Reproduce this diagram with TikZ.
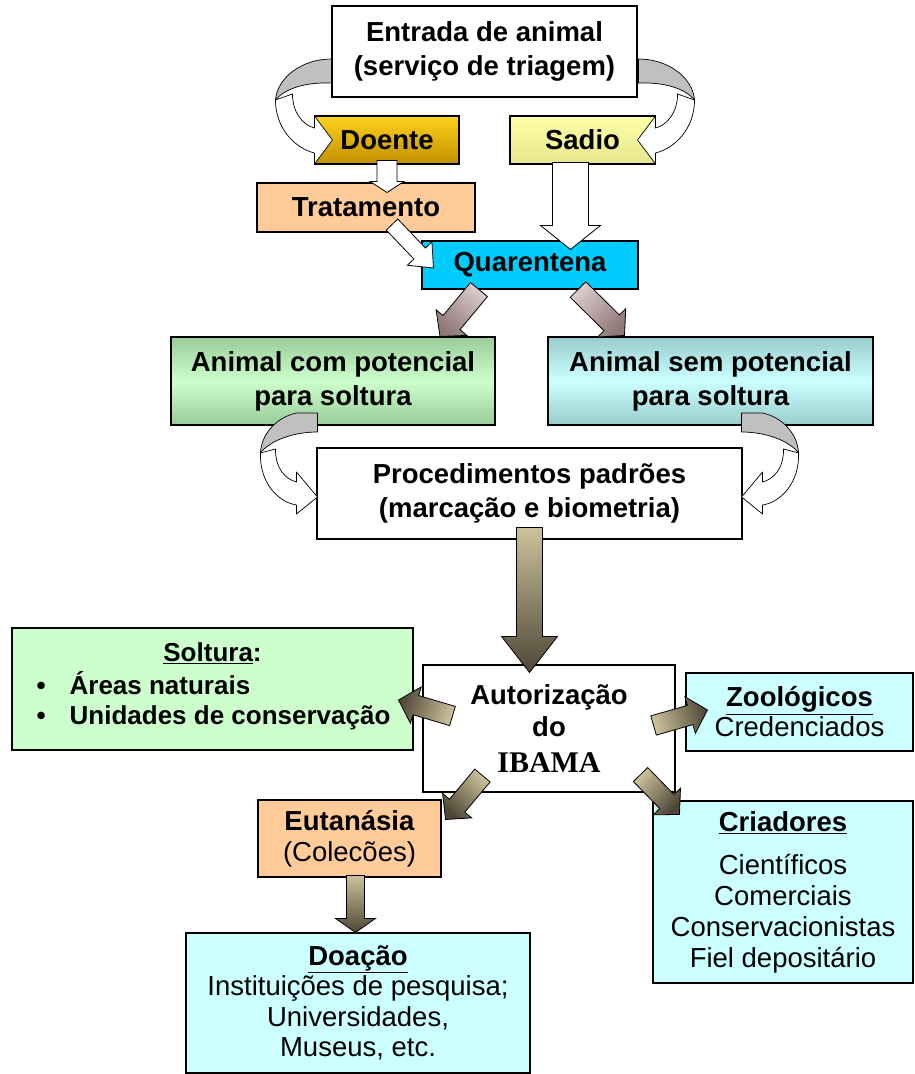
\documentclass[tikz,border=0pt]{standalone}
\usepackage{fontspec}
\setmainfont{Liberation Sans}
\newfontfamily\tmsfont{Liberation Serif}
\usetikzlibrary{calc}

\definecolor{doenteT}{HTML}{FFD21E}
\definecolor{doenteB}{HTML}{C09000}
\definecolor{sadioT}{HTML}{FFFFA6}
\definecolor{sadioB}{HTML}{E6E690}
\definecolor{peach}{HTML}{FFCC99}
\definecolor{quarC}{HTML}{00CCFF}
\definecolor{grnE}{HTML}{99CC99}
\definecolor{grnM}{HTML}{CCFFCC}
\definecolor{tealE}{HTML}{99CCCC}
\definecolor{tealM}{HTML}{CCFFFF}
\definecolor{lgreen}{HTML}{CCFFCC}
\definecolor{lcyan}{HTML}{CCFFFF}
\definecolor{cgrayc}{HTML}{C0C0C0}
\definecolor{olvL}{HTML}{CCC29A}
\definecolor{olvD}{HTML}{4F4737}
\definecolor{pnkL}{HTML}{DCCCCC}
\definecolor{pnkD}{HTML}{907878}

\newcommand{\bpt}[2]{({\x1+(#1)*\n2+(#2)*\n3},{\y1+(#1)*\n3-(#2)*\n2})}
\newcommand{\blkarrow}[6]{%
  \path[#1] let \p1=(#2), \p2=(#3),
    \n1={veclen(\x2-\x1,\y2-\y1)},
    \n2={(\x2-\x1)/\n1}, \n3={(\y2-\y1)/\n1} in
    \bpt{0}{#4} -- \bpt{\n1-#6}{#4} -- \bpt{\n1-#6}{#5} -- \bpt{\n1}{0}
    -- \bpt{\n1-#6}{-#5} -- \bpt{\n1-#6}{-#4} -- \bpt{0}{-#4} -- cycle;}

\newcommand{\curvtop}{%
  \path[cgr] (-1,-81) .. controls (-30,-81) and (-55,-63) .. (-57,-40)
     .. controls (-48,-51) and (-28,-58) .. (-1,-57) -- cycle;
  \path[cwh] (-57,-40) .. controls (-57,-12) and (-38,8) .. (-18,13) -- (-18,24) -- (0,0)
     -- (-18,-24) -- (-18,-12) .. controls (-30,-15) and (-40,-28) .. (-40,-46) -- cycle;}

\newcommand{\curvproc}{%
  \path[cgr] (0,-84) -- (-21,-84) .. controls (-40,-80) and (-56,-64) .. (-57,-44)
     .. controls (-48,-56) and (-25,-65) .. (0,-65) -- cycle;
  \path[cwh] (-57,-44) .. controls (-58,-15) and (-40,5) .. (-21,8) -- (-21,17) -- (0,0)
     -- (-21,-25) -- (-21,-15) .. controls (-32,-18) and (-42,-28) .. (-42,-48) -- cycle;}

\tikzset{
  bx/.style={draw=black, line width=1.1pt, rectangle, inner sep=0pt, align=center,
    font=\bfseries\fontsize{27.5pt}{34pt}\selectfont},
  txt/.style={inner sep=0pt, font=\bfseries\fontsize{26pt}{30pt}\selectfont},
  cgr/.style={draw=black, line width=0.7pt, fill=cgrayc, line join=round},
  cwh/.style={draw=black, line width=0.7pt, fill=white, line join=round},
  wht/.style={draw=black, line width=0.8pt, fill=white},
  olv/.style={draw=black, line width=0.8pt, top color=olvL, bottom color=olvD},
  pnk/.style={draw=black, line width=0.8pt, top color=pnkL, bottom color=pnkD},
}

\begin{document}
\begin{tikzpicture}[x=1pt,y=-1pt]
\useasboundingbox (0,0) rectangle (915,1074);

% boxes
\node[bx, fill=white, minimum width=305pt, minimum height=91pt] (entrada) at (484.5,51.5)
  {Entrada de animal\\(serviço de triagem)};
\node[bx, top color=doenteT, bottom color=doenteB, minimum width=144pt, minimum height=48pt]
  (doente) at (387,140) {Doente};
\node[bx, top color=sadioT, bottom color=sadioB, minimum width=145pt, minimum height=48pt]
  (sadio) at (582.5,140) {Sadio};
\node[bx, fill=peach, minimum width=218pt, minimum height=49pt] (trat) at (366,207.5) {Tratamento};
\node[bx, fill=quarC, minimum width=216pt, minimum height=48pt] (quar) at (530,265) {Quarentena};
\node[bx, top color=grnE, bottom color=grnE, middle color=grnM, minimum width=324pt, minimum height=88pt]
  (acom) at (333,381) {Animal com potencial\\para soltura};
\node[bx, top color=tealE, bottom color=tealE, middle color=tealM, minimum width=325pt, minimum height=88pt]
  (asem) at (710.5,381) {Animal sem potencial\\para soltura};
\node[bx, fill=white, minimum width=425pt, minimum height=91pt] (proc) at (529.5,493.5)
  {Procedimentos padrões\\(marcação e biometria)};

\node[bx, fill=lgreen, minimum width=401pt, minimum height=122pt] (solt) at (212.5,689) {};
\node[txt, anchor=base] (soltT) at ($(solt.north)+(0,34)$) {\underline{Soltura}:};
\node[txt, anchor=base west] (soltA) at ($(solt.north west)+(25,67)$) {\makebox[33pt][l]{•}Áreas naturais};
\node[txt, anchor=base west] (soltB) at ($(solt.north west)+(25,97)$) {\makebox[33pt][l]{•}Unidades de conservação};

\node[bx, fill=white, minimum width=252pt, minimum height=127pt,
  font=\bfseries\fontsize{27.5pt}{32pt}\selectfont] (auth) at (549,728.5)
  {Autorização\\do\\[4pt]{\tmsfont\bfseries\fontsize{30pt}{32pt}\selectfont IBAMA}};
\node[bx, fill=lcyan, minimum width=227pt, minimum height=78pt,
  font=\mdseries\fontsize{27.5pt}{30pt}\selectfont] (zoo) at (799.5,712)
  {\textbf{\underline{Zoológicos}}\\Credenciados};
\node[bx, fill=peach, minimum width=183pt, minimum height=77pt,
  font=\mdseries\fontsize{27.5pt}{31pt}\selectfont] (euta) at (349.5,838.5)
  {\textbf{Eutanásia}\\(Colecões)};
\node[bx, fill=lcyan, minimum width=260pt, minimum height=182pt,
  font=\mdseries\fontsize{27.5pt}{30.7pt}\selectfont] (cria) at (783,892)
  {\textbf{\underline{Criadores}}\\[13pt]Científicos\\Comerciais\\Conservacionistas\\Fiel depositário};
\node[bx, fill=lcyan, minimum width=344pt, minimum height=140pt,
  font=\mdseries\fontsize{27.5pt}{30.5pt}\selectfont] (doac) at (358,1003)
  {\textbf{\underline{Doação}}\\Instituições de pesquisa;\\Universidades,\\Museus, etc.};

% curved arrows
\begin{scope}[shift={($(doente.west)+(18,0)$)}] \curvtop \end{scope}
\begin{scope}[shift={($(sadio.east)+(-18,0)$)}, xscale=-1] \curvtop \end{scope}
\begin{scope}[shift={($(proc.west)+(1,3.5)$)}] \curvproc \end{scope}
\begin{scope}[shift={($(proc.east)+(-1,3.5)$)}, xscale=-1] \curvproc \end{scope}

% straight block arrows
\blkarrow{wht}{$(doente.south)+(0,-4)$}{$(doente.south |- trat.north)+(0,10)$}{10}{17}{11}
\coordinate (sq) at ($(sadio.south)+(-12,-2)$);
\blkarrow{wht}{sq}{$(sq |- quar.north)+(0,9)$}{18}{30}{24}
\blkarrow{wht}{$(trat.south)+(26,-8)$}{$(quar.west)+(12,3)$}{8}{17}{20}
\blkarrow{pnk, shading angle=-41}{$(quar.south)+(-51,0)$}{$(acom.north)+(107,0)$}{11}{20}{18}
\blkarrow{pnk, shading angle=45}{$(quar.south)+(48,0)$}{$(asem.north)+(-86,-1)$}{11}{20}{18}
\blkarrow{olv}{$(proc.south)+(0,-12)$}{$(proc.south |- auth.north)+(0,8)$}{13}{28}{36}
\blkarrow{olv, shading angle=-107}{$(auth.west)+(30,-12.5)$}{$(solt.east)+(-15,11)$}{10}{19}{18}
\blkarrow{olv, shading angle=105}{$(auth.east)+(-22,-3)$}{$(zoo.west)+(22,-2)$}{10}{19}{18}
\blkarrow{olv, shading angle=-45}{$(auth.south west)+(60,-17)$}{$(euta.north east)+(4,20)$}{10}{19}{18}
\blkarrow{olv, shading angle=49}{$(auth.south east)+(-35,-18)$}{$(cria.north west)+(27,14)$}{10}{19}{18}
\blkarrow{olv}{$(euta.south)+(6,-2)$}{$(euta.south |- doac.north)+(6,0)$}{9}{20}{14}
\end{tikzpicture}
\end{document}
